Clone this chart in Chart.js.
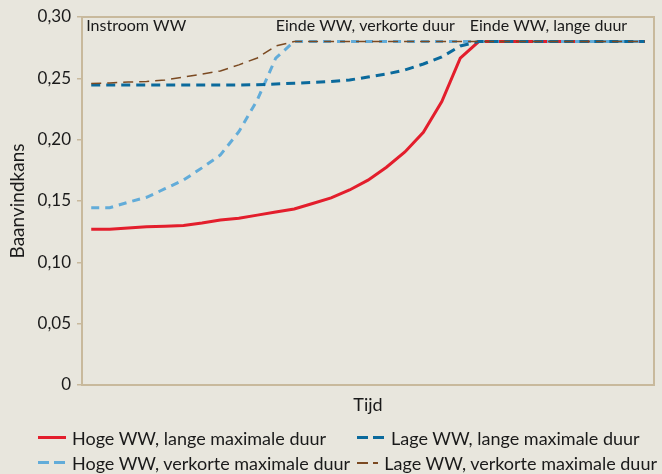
<!DOCTYPE html>
<html>
<head>
<meta charset="utf-8">
<script src="https://cdn.jsdelivr.net/npm/chart.js@4.4.0/dist/chart.umd.min.js"></script>
<style>
  html, body { margin: 0; padding: 0; background: #e8e6dd; }
  #wrap { position: relative; width: 662px; height: 474px; }
  #legend {
    position: absolute; left: 38px; top: 426px;
    display: grid; grid-template-columns: 319px 300px; row-gap: 2px;
    font-family: Lato, sans-serif; font-size: 18px; color: #1a1a1a;
  }
  .item { display: flex; align-items: center; white-space: nowrap; height: 23px; }
  .swatch { width: 28px; height: 3px; margin-right: 6px; }
</style>
</head>
<body>
<div id="wrap">
  <canvas id="chart" width="662" height="474"></canvas>
  <div id="legend"></div>
</div>
<script>
// time steps (x axis has no tick labels)
const periods = [1, 2, 3, 4, 5, 6, 7, 8, 9, 10, 11, 12, 13, 14, 15, 16,
                 17, 18, 19, 20, 21, 22, 23, 24, 25, 26, 27, 28, 29, 30, 31];

const hogeLang = [0.127, 0.127, 0.128, 0.129, 0.1295, 0.130, 0.132, 0.1345, 0.136, 0.1385,
                  0.141, 0.1435, 0.148, 0.1525, 0.159, 0.167, 0.1775, 0.190, 0.206, 0.231,
                  0.2665, 0.280, 0.28, 0.28, 0.28, 0.28, 0.28, 0.28, 0.28, 0.28, 0.28];
const hogeKort = [0.1445, 0.1445, 0.149, 0.153, 0.160, 0.167, 0.177, 0.1875, 0.2065, 0.2323,
                  0.2665, 0.280, 0.28, 0.28, 0.28, 0.28, 0.28, 0.28, 0.28, 0.28,
                  0.28, 0.28, 0.28, 0.28, 0.28, 0.28, 0.28, 0.28, 0.28, 0.28, 0.28];
const lageLang = [0.2446, 0.2446, 0.2446, 0.2446, 0.2446, 0.2446, 0.2446, 0.2446, 0.2446, 0.2448,
                  0.2454, 0.246, 0.2466, 0.2474, 0.2486, 0.2511, 0.2535, 0.2568, 0.2617, 0.2674,
                  0.2764, 0.280, 0.28, 0.28, 0.28, 0.28, 0.28, 0.28, 0.28, 0.28, 0.28];
const lageKort = [0.2458, 0.2462, 0.247, 0.2474, 0.2486, 0.251, 0.2535, 0.256, 0.261, 0.2666,
                  0.2764, 0.280, 0.28, 0.28, 0.28, 0.28, 0.28, 0.28, 0.28, 0.28,
                  0.28, 0.28, 0.28, 0.28, 0.28, 0.28, 0.28, 0.28, 0.28, 0.28, 0.28];

const seriesNames = ['Hoge WW, lange maximale duur', 'Lage WW, lange maximale duur',
                     'Hoge WW, verkorte maximale duur', 'Lage WW, verkorte maximale duur'];
const yTicks = [0, 0.05, 0.10, 0.15, 0.20, 0.25, 0.30];

// text labels inside the plot, anchored at a period index
const notes = ['Instroom WW', 'Einde WW, verkorte duur', 'Einde WW, lange duur'];
const noteAt = [0, 10, 21];
const noteShift = [-5, 0, -9];

const axisColor = '#c8b99c';
const font = 'Lato, sans-serif';

const frame = {
    id: 'frame',
    beforeDatasetsDraw(chart) {
        const { ctx, chartArea: a } = chart;
        ctx.save();
        ctx.strokeStyle = axisColor;
        ctx.lineWidth = 2;
        ctx.strokeRect(a.left, a.top, a.right - a.left, a.bottom - a.top);
        ctx.restore();
    },
    afterDatasetsDraw(chart) {
        const { ctx, chartArea: a, scales } = chart;
        ctx.save();
        ctx.fillStyle = '#1a1a1a';
        ctx.font = '16px ' + font;
        ctx.textBaseline = 'middle';
        notes.forEach((t, i) => {
            ctx.fillText(t, scales.x.getPixelForValue(noteAt[i]) + noteShift[i], a.top + 9);
        });
        ctx.restore();
    }
};

const styles = [
    { data: hogeLang, color: '#e31e2c', width: 3, dash: [], order: 4 },
    { data: lageLang, color: '#0b6a9c', width: 3, dash: [9, 6], order: 2 },
    { data: hogeKort, color: '#62acd9', width: 3, dash: [8, 6], order: 3 },
    { data: lageKort, color: '#7b4a22', width: 1.5, dash: [10, 6], order: 1 }
];

const chart = new Chart(document.getElementById('chart'), {
    type: 'line',
    data: {
        labels: periods,
        datasets: styles.map((s, i) => ({
            label: seriesNames[i],
            data: s.data,
            borderColor: s.color,
            borderWidth: s.width,
            borderDash: s.dash,
            order: s.order,
            pointRadius: 0,
            tension: 0,
            fill: false
        }))
    },
    options: {
        responsive: false,
        animation: false,
        layout: { padding: { top: 17, right: 8, left: 0, bottom: 0 } },
        plugins: { legend: { display: false }, tooltip: { enabled: false } },
        scales: {
            x: {
                offset: true,
                ticks: { display: false },
                grid: { display: false },
                border: { display: false },
                title: { display: true, text: 'Tijd', color: '#1a1a1a',
                         font: { family: font, size: 18 }, padding: { top: 0, bottom: 58 } },
                afterFit: (s) => { s.height = 89; }
            },
            y: {
                min: 0, max: 0.3,
                afterBuildTicks: (s) => { s.ticks = yTicks.map(v => ({ value: v })); },
                ticks: {
                    color: '#1a1a1a', padding: 6,
                    font: { family: font, size: 17 },
                    callback: (v) => v === 0 ? '0' : v.toFixed(2).replace('.', ',')
                },
                grid: { drawOnChartArea: false, tickLength: 5, color: axisColor, lineWidth: 1.5 },
                border: { display: false },
                title: { display: true, text: 'Baanvindkans', color: '#1a1a1a',
                         font: { family: font, size: 19 }, padding: { top: 6, bottom: 0 } },
                afterFit: (s) => { s.width = 82; }
            }
        }
    },
    plugins: [frame]
});

// legend as html, two columns
const legend = document.getElementById('legend');
chart.data.datasets.forEach((d) => {
    const item = document.createElement('div');
    item.className = 'item';
    const sw = document.createElement('span');
    sw.className = 'swatch';
    const c = d.borderColor;
    if (d.borderDash.length) {
        sw.style.background = `repeating-linear-gradient(90deg, ${c} 0 11px, transparent 11px 16px)`;
        sw.style.height = d.borderWidth < 2 ? '2px' : '3px';
    } else {
        sw.style.background = c;
    }
    item.appendChild(sw);
    item.appendChild(document.createTextNode(d.label));
    legend.appendChild(item);
});
</script>
</body>
</html>
